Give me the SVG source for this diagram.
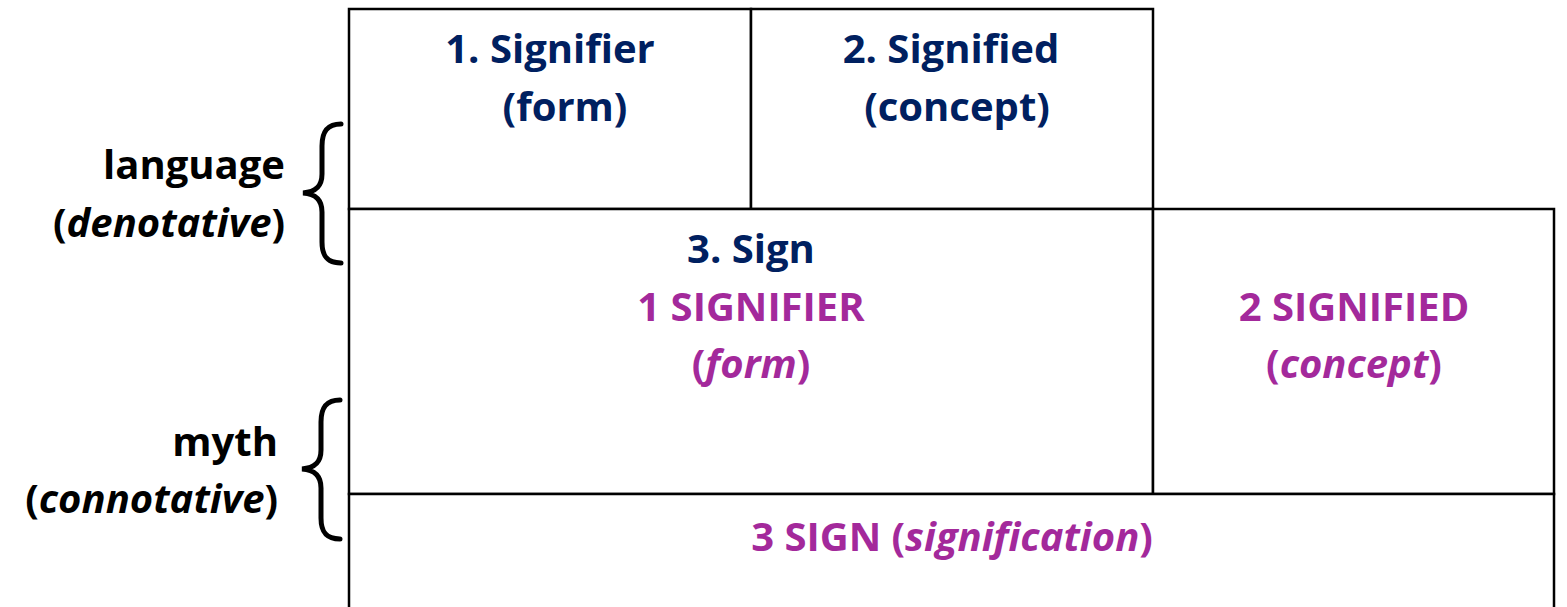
<svg xmlns="http://www.w3.org/2000/svg" width="1567" height="607" viewBox="0 0 1567 607">
<style>
.cell{fill:#fff;stroke:#000;stroke-width:2.5}
text{font-family:"Open Sans",Lato,"Liberation Sans",sans-serif;font-weight:bold;font-size:40px}
.n{fill:#002060;text-anchor:middle}
.p{fill:#A3299B;text-anchor:middle}
.k{fill:#000;text-anchor:end}
.brace{fill:none;stroke:#000;stroke-width:5;stroke-linecap:round}
</style>
<rect width="1567" height="607" fill="#fff"/>
<g id="connectors">
<path class="brace" d="M341,124 C327,124 322,132 322,146 L322,174 C322,186 316,192 303,193 C316,194 322,200 322,212 L322,242 C322,256 327,263 341,263"/>
<path class="brace" d="M340,400 C326,400 321,408 321,422 L321,450 C321,462 315,468 302,469 C315,470 321,476 321,488 L321,518 C321,532 326,539 340,539"/>
</g>
<g id="signifier1">
<rect class="cell" x="349" y="9" width="402" height="200"/>
<text class="n" x="550" y="63">1. Signifier</text>
<text class="n" x="565" y="121">(form)</text>
</g>
<g id="signified2">
<rect class="cell" x="751" y="9" width="402" height="200"/>
<text class="n" x="951" y="63">2. Signified</text>
<text class="n" x="957" y="121">(concept)</text>
</g>
<g id="sign3">
<rect class="cell" x="349" y="209" width="804" height="285"/>
<text class="n" x="751" y="263">3. Sign</text>
<text class="p" x="751" y="321">1 SIGNIFIER</text>
<text class="p" x="751" y="378">(<tspan font-style="italic">form</tspan>)</text>
</g>
<g id="signified-myth">
<rect class="cell" x="1153" y="209" width="401" height="285"/>
<text class="p" x="1354" y="321">2 SIGNIFIED</text>
<text class="p" x="1354" y="378">(<tspan font-style="italic">concept</tspan>)</text>
</g>
<g id="sign-myth">
<rect class="cell" x="349" y="494" width="1205" height="130"/>
<text class="p" x="952" y="551">3 SIGN (<tspan font-style="italic">signification</tspan>)</text>
</g>
<g id="language">
<text class="k" x="285" y="179">language</text>
<text class="k" x="285" y="237">(<tspan font-style="italic">denotative</tspan>)</text>
</g>
<g id="myth">
<text class="k" x="278" y="456">myth</text>
<text class="k" x="278" y="513">(<tspan font-style="italic">connotative</tspan>)</text>
</g>
</svg>
